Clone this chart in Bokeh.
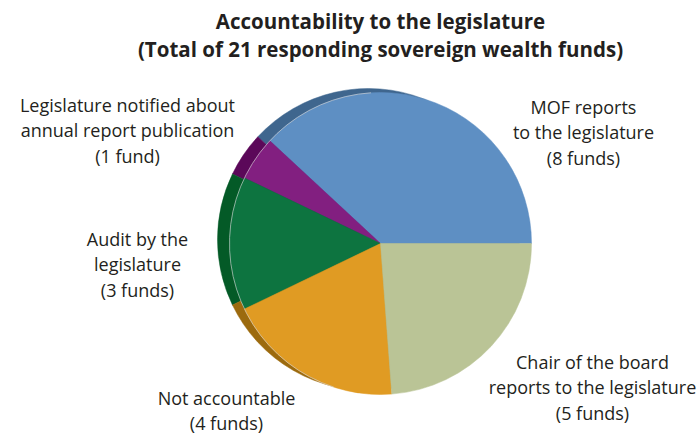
from math import pi
from bokeh.plotting import figure
from bokeh.models import Range1d
from bokeh.embed import file_html
from bokeh.resources import INLINE
from bokeh.core.properties import value

# ---- data ----
categories = ["MOF reports to the legislature",
              "Legislature notified about annual report publication",
              "Audit by the legislature",
              "Not accountable",
              "Chair of the board reports to the legislature"]
funds = [8, 1, 3, 4, 5]
face_colors = ["#5E8FC3", "#821F80", "#0D7440", "#E09B23", "#BAC496"]
rim_colors = ["#3F668E", "#5B0859", "#045A27", "#9C6A0E", "#8E9870"]

label_lines = [
    ["MOF reports", "to the legislature", "(8 funds)"],
    ["Legislature notified about", "annual report publication", "(1 fund)"],
    ["Audit by the", "legislature", "(3 funds)"],
    ["Not accountable", "(4 funds)"],
    ["Chair of the board", "reports to the legislature", "(5 funds)"],
]
title_lines = ["Accountability to the legislature",
               "(Total of 21 responding sovereign wealth funds)"]

# ---- layout (pixel based, y measured from top) ----
W, H = 698, 435
cx, cy, r = 380, 243, 151
rim_dx, rim_dy = -12, -4
label_pos = [(583, 106), (127, 104), (137, 238), (226, 397), (592, 361)]
line_gap = 25.5

total = sum(funds)
starts, ends = [], []
acc = 0.0
for f in funds:
    starts.append(2 * pi * acc / total)
    acc += f
    ends.append(2 * pi * acc / total)

p = figure(width=W, height=H, x_range=Range1d(0, W), y_range=Range1d(0, H),
           output_backend="svg", toolbar_location=None,
           x_axis_location=None, y_axis_location=None, min_border=0)
p.grid.visible = False
p.outline_line_color = None
p.background_fill_color = "white"

# side (rim) of the pie
p.wedge(x=[cx + rim_dx] * len(funds), y=[H - (cy + rim_dy)] * len(funds), radius=r,
        start_angle=starts, end_angle=ends, direction="anticlock",
        fill_color=rim_colors, line_color=rim_colors, line_width=0.5)
# face of the pie
p.wedge(x=[cx] * len(funds), y=[H - cy] * len(funds), radius=r,
        start_angle=starts, end_angle=ends, direction="anticlock",
        fill_color=face_colors, line_color=face_colors, line_width=0.5)
# faint highlight on the edge of the face
p.arc(x=cx, y=H - cy, radius=r, start_angle=pi * 0.52, end_angle=pi * 1.40,
      direction="anticlock", line_color="#d8d8d8", line_width=0.8, line_alpha=0.8)

font = value("Open Sans")
for lines, (lx, ly) in zip(label_lines, label_pos):
    for i, t in enumerate(lines):
        p.text(x=[lx], y=[H - (ly + i * line_gap)], text=[t], text_font=font,
               text_font_size="18px", text_color="#231F20",
               text_align="center", text_baseline="middle")

for i, t in enumerate(title_lines):
    p.text(x=[380], y=[H - (20 + i * 28)], text=[t], text_font=font,
           text_font_size="20.5px", text_font_style="bold", text_color="#231F20",
           text_align="center", text_baseline="middle")

open("out.html", "w").write(file_html(p, INLINE))
